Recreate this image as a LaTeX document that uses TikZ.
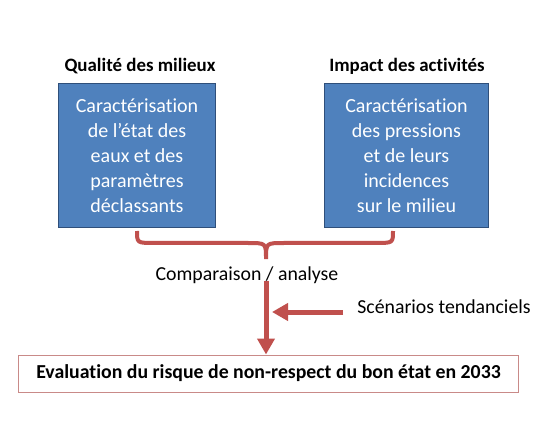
\documentclass[tikz,border=0pt]{standalone}
\usepackage{fontspec}
\setmainfont{Carlito}[Ligatures={NoCommon}]
\usetikzlibrary{arrows.meta}
\definecolor{boxblue}{HTML}{4F81BD}
\definecolor{boxedge}{HTML}{2F4F7A}
\definecolor{accred}{HTML}{C0504D}
\definecolor{evaledge}{HTML}{C98A88}
\tikzset{
  bluebox/.style={draw=boxedge, line width=1bp, fill=boxblue, text=white, align=center,
    font=\fontsize{20bp}{25bp}\selectfont, inner sep=0pt, anchor=north west},
  title/.style={font=\bfseries\fontsize{18.9bp}{22bp}\selectfont, inner sep=0pt},
  label/.style={font=\fontsize{19.8bp}{22bp}\selectfont, inner sep=0pt},
  redline/.style={draw=accred, line width=4bp},
  redarrow/.style={draw=accred, line width=5bp, -{Triangle[length=16bp,width=17bp]}},
}
\begin{document}
\begin{tikzpicture}[x=1bp,y=-1bp]
\useasboundingbox (0,0) rectangle (557,447);
\fill[white] (0,0) rectangle (557,447);
\node[title] (t1) at (140,66) {Qualité des milieux};
\node[title] (t2) at (407,66) {Impact des activités};
\node[bluebox, minimum width=157bp, minimum height=144bp] (b1) at (58,83) {Caractérisation\\de l’état des\\eaux et des\\paramètres\\déclassants};
\node[bluebox, minimum width=164bp, minimum height=144bp] (b2) at (324,83) {Caractérisation\\des pressions\\et de leurs\\incidences\\sur le milieu};
\coordinate (bl) at (137,231);
\coordinate (br) at (393,231);
\coordinate (tip) at (266,259);
\draw[redline] (bl) .. controls (137,243) .. (155,243) -- (248,243) .. controls (266,243) .. (tip)
  .. controls (266,243) .. (284,243) -- (375,243) .. controls (393,243) .. (br);
\node[label] (comp) at (247,275) {Comparaison / analyse};
\node[label] (scen) at (444,307) {Scénarios tendanciels};
\node[draw=evaledge, line width=1bp, minimum width=499bp, minimum height=37bp, inner sep=0pt,
  font=\bfseries\fontsize{19.8bp}{22bp}\selectfont] (eval) at (268.5,373.5) {Evaluation du risque de non-respect du bon état en 2033};
\draw[redarrow] ([yshift=3bp]tip |- comp.south) -- (tip |- eval.north);
\coordinate (hs) at (343,312);
\coordinate (he) at (272,312);
\draw[redarrow] (hs) -- (he);
\end{tikzpicture}
\end{document}
